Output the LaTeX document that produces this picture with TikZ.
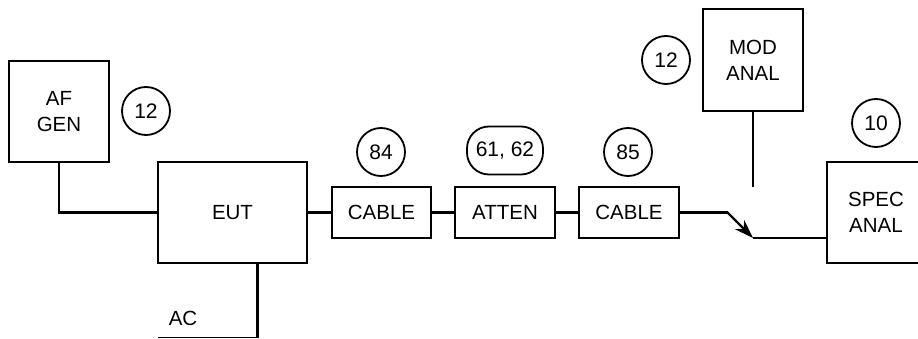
\documentclass[tikz,border=0pt]{standalone}
\usepackage{fontspec}
\setmainfont{Liberation Sans}
\usetikzlibrary{arrows.meta}
\begin{document}
\begin{tikzpicture}[x=1pt,y=-1pt,
  box/.style={draw,line width=2.2pt,inner sep=0pt,align=center,font=\fontsize{20.5}{26}\selectfont},
  num/.style={draw,circle,line width=1.8pt,minimum size=48pt,inner sep=0pt,font=\fontsize{21}{24}\selectfont},
  wire/.style={line width=2.2pt},
  lbl/.style={inner sep=0pt,font=\fontsize{20.5}{26}\selectfont}]
\useasboundingbox (0,0) rectangle (918,339);
% boxes
\node[box,minimum width=100pt,minimum height=101pt] (afgen) at (59,111.5) {AF\\GEN};
\node[box,minimum width=149pt,minimum height=101pt] (eut) at (232.5,212.5) {EUT};
\node[box,minimum width=99pt,minimum height=51pt] (cab1) at (381.5,212.5) {CABLE};
\node[box,minimum width=100pt,minimum height=51pt] (atten) at (505,212.5) {ATTEN};
\node[box,minimum width=100pt,minimum height=51pt] (cab2) at (629,212.5) {CABLE};
\node[box,minimum width=100pt,minimum height=102pt] (mod) at (753,60) {MOD\\ANAL};
\node[box,minimum width=98pt,minimum height=101pt] (spec) at (876,212.5) {SPEC\\ANAL};
% numbered circles
\node[num] (c12a) at (146,111) {12};
\node[num] (c84) at (381,152) {84};
\node[draw,rounded corners=22pt,line width=1.8pt,minimum width=76pt,minimum height=48pt,inner sep=0pt,font=\fontsize{21}{24}\selectfont] (c6162) at (505,150.5) {61, 62};
\node[num] (c85) at (628,152) {85};
\node[num] (c12b) at (666,60) {12};
\node[num] (c10) at (876,123) {10};
% coordinates
\coordinate (sw1) at (727.5,212.5);
\coordinate (sw2) at (753,238);
\coordinate (modend) at (753,187.5);
\coordinate (acend) at (158,337.5);
\coordinate (eutbot) at (257.5,337.5);
% wires
\draw[wire] (afgen.south) |- (eut.west);
\draw[wire] (eut.east) -- (cab1.west);
\draw[wire] (cab1.east) -- (atten.west);
\draw[wire] (atten.east) -- (cab2.west);
\draw[wire] (cab2.east) -- (sw1);
\draw[wire,-{Stealth[length=19pt,width=13pt,inset=6pt]}] (sw1) -- (sw2);
\draw[wire] (sw2) -- (sw2 -| spec.west);
\draw[line width=1.6pt] (mod.south) -- (modend);
\draw[wire] (eut.south -| eutbot) -- (eutbot);
\draw[line width=1.2pt] (eutbot) -- (acend);
\node[lbl] (ac) at (183,318) {AC};
\end{tikzpicture}
\end{document}
